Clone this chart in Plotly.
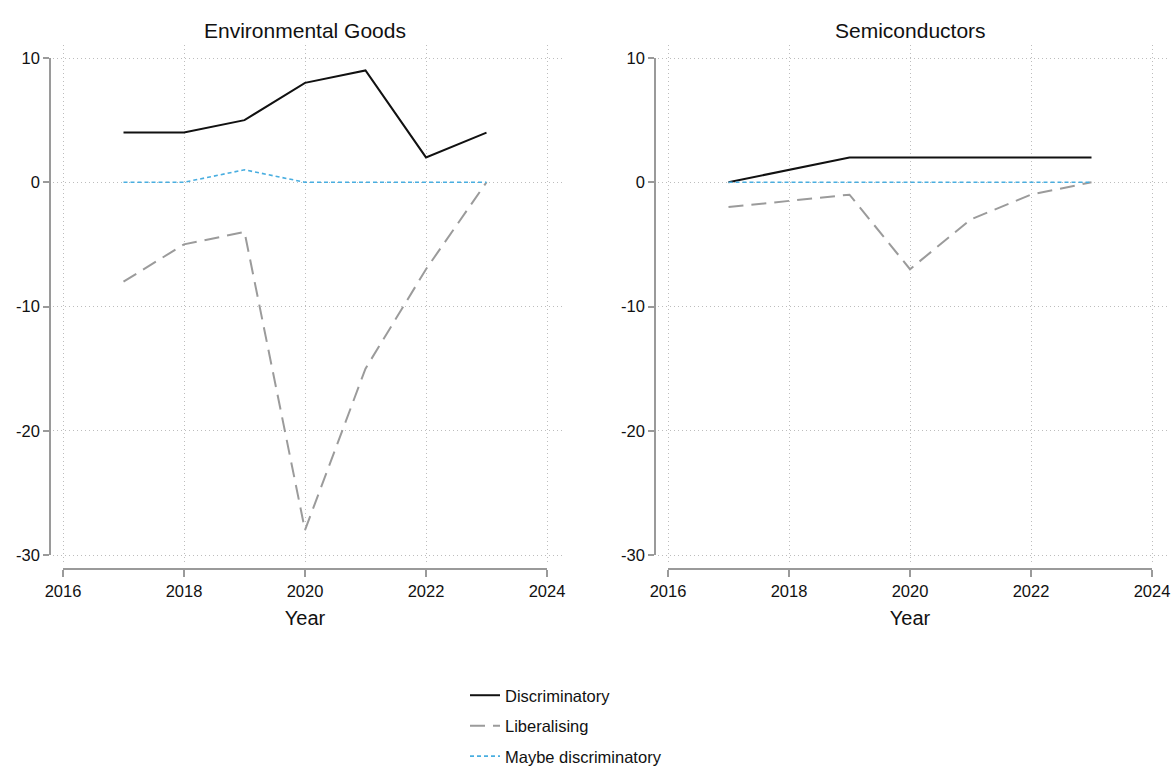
import plotly.graph_objects as go

# ---- data -------------------------------------------------------------
years_env = [2017, 2018, 2019, 2020, 2021, 2022, 2023]
env_discriminatory = [4, 4, 5, 8, 9, 2, 4]
env_liberalising = [-8, -5, -4, -28, -15, -7, 0]
env_maybe = [0, 0, 1, 0, 0, 0, 0]

years_semi = [2017, 2019, 2020, 2021, 2022, 2023]
semi_discriminatory = [0, 2, 2, 2, 2, 2]
semi_liberalising = [-2, -1, -7, -3, -1, 0]
semi_maybe = [0, 0, 0, 0, 0, 0]

panel_titles = ["Environmental Goods", "Semiconductors"]
x_ticks = [2016, 2018, 2020, 2022, 2024]
y_ticks = [10, 0, -10, -20, -30]
y_ticklabels = ["10", "0", "-10", "-20", "-30"]
series_names = ["Discriminatory", "Liberalising", "Maybe discriminatory"]

# ---- page geometry (pixels) --------------------------------------------
W, H = 1173, 767
FONT = "Liberation Sans, Arial, Helvetica, sans-serif"


def fx(px):
    return px / W


def fy(py):
    return 1 - py / H


X_MIN, X_MAX = 2016, 2024
Y_MIN, Y_MAX = -30, 10
# per panel: x of 2016 tick, x of 2024 tick, y-axis line x, grid left/right edges
panels = [
    dict(x0=63, x1=547, yline=50, gl=53, gr=562),
    dict(x0=668, x1=1152, yline=655, gl=658, gr=1167),
]
Y_TOP, Y_BOT = 58, 555        # pixel rows of y=10 and y=-30
GRID_TOP, GRID_BOT = 45, 565  # vertical extent of the dotted grid
XLINE = 569                   # pixel row of the x-axis line

GRID_COLOR = "#bdbdbd"
AXIS_COLOR = "#9a9a9a"

styles = {
    "Discriminatory": dict(color="#111111", width=2, dash="solid"),
    "Liberalising": dict(color="#9b9b9b", width=2, dash="15px,8px"),
    "Maybe discriminatory": dict(color="#49aee0", width=1.6, dash="4px,3px"),
}

fig = go.Figure()

panel_data = [
    (years_env, [env_discriminatory, env_liberalising, env_maybe]),
    (years_semi, [semi_discriminatory, semi_liberalising, semi_maybe]),
]

layout = {}
annotations = []
for i, (p, (yrs, series)) in enumerate(zip(panels, panel_data)):
    gx, gy = ("x", "y") if i == 0 else ("x2", "y2")
    dx, dy = ("x3", "y3") if i == 0 else ("x4", "y4")
    gxk, gyk = ("xaxis", "yaxis") if i == 0 else ("xaxis2", "yaxis2")
    dxk, dyk = ("xaxis3", "yaxis3") if i == 0 else ("xaxis4", "yaxis4")

    # empty trace so the grid subplot is created
    fig.add_trace(go.Scatter(x=[], y=[], xaxis=gx, yaxis=gy,
                             showlegend=False, hoverinfo="skip"))

    for name, vals in zip(series_names, series):
        st = styles[name]
        fig.add_trace(go.Scatter(
            x=yrs, y=vals, mode="lines", name=name,
            xaxis=dx, yaxis=dy, legendgroup=name,
            showlegend=(i == 0), hoverinfo="x+y+name",
            line=dict(color=st["color"], width=st["width"], dash=st["dash"]),
        ))

    ppx = (p["x1"] - p["x0"]) / (X_MAX - X_MIN)
    ppy = (Y_BOT - Y_TOP) / (Y_MAX - Y_MIN)

    # grid-only axes spanning the whole plot region
    layout[gxk] = dict(
        domain=[fx(p["gl"]), fx(p["gr"])],
        range=[X_MIN - (p["x0"] - p["gl"]) / ppx, X_MAX + (p["gr"] - p["x1"]) / ppx],
        anchor=gy, tickvals=x_ticks, showticklabels=False, ticks="",
        showline=False, zeroline=False, showgrid=True, automargin=False,
        gridcolor=GRID_COLOR, griddash="1px,3px", gridwidth=1,
    )
    layout[gyk] = dict(
        domain=[fy(GRID_BOT), fy(GRID_TOP)],
        range=[Y_MIN - (GRID_BOT - Y_BOT) / ppy, Y_MAX + (Y_TOP - GRID_TOP) / ppy],
        anchor=gx, tickvals=y_ticks, showticklabels=False, ticks="",
        showline=False, zeroline=False, showgrid=True, automargin=False,
        gridcolor=GRID_COLOR, griddash="1px,3px", gridwidth=1,
    )

    # display axes carrying data, ticks, labels and offset axis lines
    layout[dxk] = dict(
        domain=[fx(p["x0"]), fx(p["x1"])], range=[X_MIN, X_MAX],
        anchor="free", position=fy(XLINE), automargin=False,
        tickvals=x_ticks, ticktext=[str(v) for v in x_ticks],
        ticks="outside", ticklen=7, tickwidth=1.5, tickcolor=AXIS_COLOR,
        showline=True, linecolor=AXIS_COLOR, linewidth=1.5,
        showgrid=False, zeroline=False,
        tickfont=dict(family=FONT, size=16.5, color="#111111"),
        title=dict(text="Year", font=dict(family=FONT, size=20, color="#111111"),
                   standoff=11),
    )
    layout[dyk] = dict(
        domain=[fy(Y_BOT), fy(Y_TOP)], range=[Y_MIN, Y_MAX],
        anchor="free", position=fx(p["yline"]), automargin=False,
        tickvals=y_ticks, ticktext=y_ticklabels,
        ticks="outside", ticklen=6, tickwidth=1.5, tickcolor=AXIS_COLOR,
        showline=True, linecolor=AXIS_COLOR, linewidth=1.5,
        showgrid=False, zeroline=False,
        tickfont=dict(family=FONT, size=16.5, color="#111111"),
    )

    annotations.append(dict(
        text=panel_titles[i], xref="paper", yref="paper",
        x=fx((p["x0"] + p["x1"]) / 2), y=fy(30),
        xanchor="center", yanchor="middle", showarrow=False,
        font=dict(family=FONT, size=21, color="#111111"),
    ))

fig.update_layout(
    width=W, height=H, autosize=False,
    # fixed margins: nothing may push the plotting area around
    margin=dict(l=0, r=0, t=0, b=0, pad=0, autoexpand=False),
    paper_bgcolor="white", plot_bgcolor="rgba(0,0,0,0)",
    font=dict(family=FONT, color="#111111"),
    annotations=annotations,
    showlegend=True,
    legend=dict(
        x=fx(465), y=fy(774), xanchor="left", yanchor="bottom",
        orientation="v", traceorder="grouped", tracegroupgap=6,
        itemwidth=30, font=dict(family=FONT, size=16.5, color="#111111"),
        bgcolor="rgba(0,0,0,0)",
    ),
    **layout,
)

fig.write_html("out.html")
